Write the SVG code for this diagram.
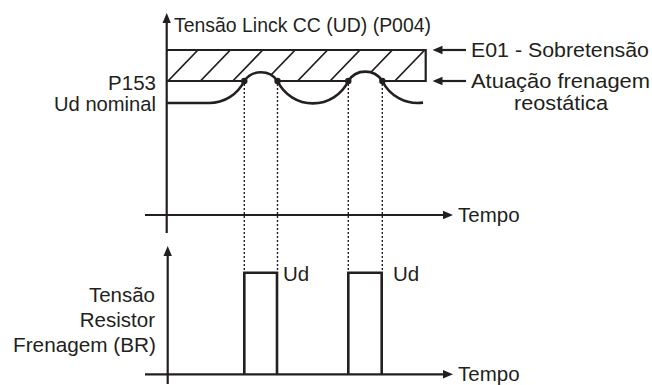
<svg xmlns="http://www.w3.org/2000/svg" width="652" height="385" viewBox="0 0 652 385">
<style>
.t{font-family:"Liberation Sans",Arial,sans-serif;font-size:20.5px;fill:#231f20}
.r{text-anchor:end}
.ax{stroke:#231f20;stroke-width:2.2;fill:none}
.cv{stroke:#231f20;stroke-width:2.6;fill:none}
.ht{stroke:#231f20;stroke-width:1.7;fill:none}
.dt{stroke:#231f20;stroke-width:1.4;stroke-dasharray:2 2;fill:none}
.ar{fill:#231f20}
</style>
<defs>
<clipPath id="hc"><path d="M166,50 H425.7 V81 H382.3 A20.1,20.1 0 0 0 348.3,81 H277.5 A20.1,20.1 0 0 0 244.3,81 H166 Z"/></clipPath>
</defs>
<rect width="652" height="385" fill="#fff"/>
<g id="axes">
<line class="ax" x1="166.7" y1="22" x2="166.7" y2="233"/>
<path class="ar" d="M166.7,13 L162.5,23 L170.9,23 Z"/>
<line class="ax" x1="145" y1="215" x2="444" y2="215"/>
<path class="ar" d="M453,215 L443,210.8 L443,219.2 Z"/>
<line class="ax" x1="167.7" y1="256" x2="167.7" y2="384"/>
<path class="ar" d="M167.7,246 L163.5,256 L171.9,256 Z"/>
<line class="ax" x1="145" y1="374.3" x2="444" y2="374.3"/>
<path class="ar" d="M453,374.3 L443,370.1 L443,378.5 Z"/>
</g>
<g id="band">
<g clip-path="url(#hc)">
<path class="ht" d="M150,68 L172,46 M168,81 L198,50 M200.4,81 L230.4,50 M232.8,81 L262.8,50 M265.2,81 L295.2,50 M297.6,81 L327.6,50 M330,81 L360,50 M362.4,81 L392.4,50 M394.8,81 L424.8,50"/>
</g>
<path class="ax" d="M166.7,50 H425.7 V81 H382.3 M348.3,81 H277.5 M244.3,81 H166.7"/>
</g>
<g id="voltage-curve">
<path class="cv" d="M166.7,103 H208.9 A39.2,39.2 0 0 0 244.3,81 A20.1,20.1 0 0 1 277.5,81 A39.2,39.2 0 0 0 348.3,81 A20.1,20.1 0 0 1 382.3,81 A39.2,39.2 0 0 0 423,102.6"/>
<circle class="ar" cx="244.3" cy="81" r="3.2"/>
<circle class="ar" cx="277.5" cy="81" r="3.2"/>
<circle class="ar" cx="348.3" cy="81" r="3.2"/>
<circle class="ar" cx="382.3" cy="81" r="3.2"/>
</g>
<g id="connectors">
<path class="dt" d="M244.3,84 V272.7 M277.5,84 V272.7 M348.3,84 V272.7 M382.3,84 V272.7"/>
<line class="ax" x1="442" y1="50" x2="466" y2="50"/>
<path class="ar" d="M432.5,50 L442.5,45.8 L442.5,54.2 Z"/>
<line class="ax" x1="442" y1="81" x2="466" y2="81"/>
<path class="ar" d="M432.5,81 L442.5,76.8 L442.5,85.2 Z"/>
</g>
<g id="pulses">
<path class="cv" d="M244.3,374.3 V272.7 H277 V374.3"/>
<path class="cv" d="M348.3,374.3 V272.7 H381.7 V374.3"/>
</g>
<g id="labels">
<text class="t" x="174" y="32" textLength="257" lengthAdjust="spacingAndGlyphs">Tensão Linck CC (UD) (P004)</text>
<text class="t" x="471" y="57" textLength="178" lengthAdjust="spacingAndGlyphs">E01 - Sobretensão</text>
<text class="t" x="471" y="88" textLength="179" lengthAdjust="spacingAndGlyphs">Atuação frenagem</text>
<text class="t" x="561" y="110" text-anchor="middle" textLength="94" lengthAdjust="spacingAndGlyphs">reostática</text>
<text class="t r" x="156" y="90">P153</text>
<text class="t r" x="156" y="111" textLength="102" lengthAdjust="spacingAndGlyphs">Ud nominal</text>
<text class="t r" x="155" y="301.7">Tensão</text>
<text class="t r" x="155" y="326.7">Resistor</text>
<text class="t r" x="156" y="352" textLength="143" lengthAdjust="spacingAndGlyphs">Frenagem (BR)</text>
<text class="t" x="283" y="280.5">Ud</text>
<text class="t" x="393" y="280.5">Ud</text>
<text class="t" x="458" y="221.5">Tempo</text>
<text class="t" x="458" y="381">Tempo</text>
</g>
</svg>
